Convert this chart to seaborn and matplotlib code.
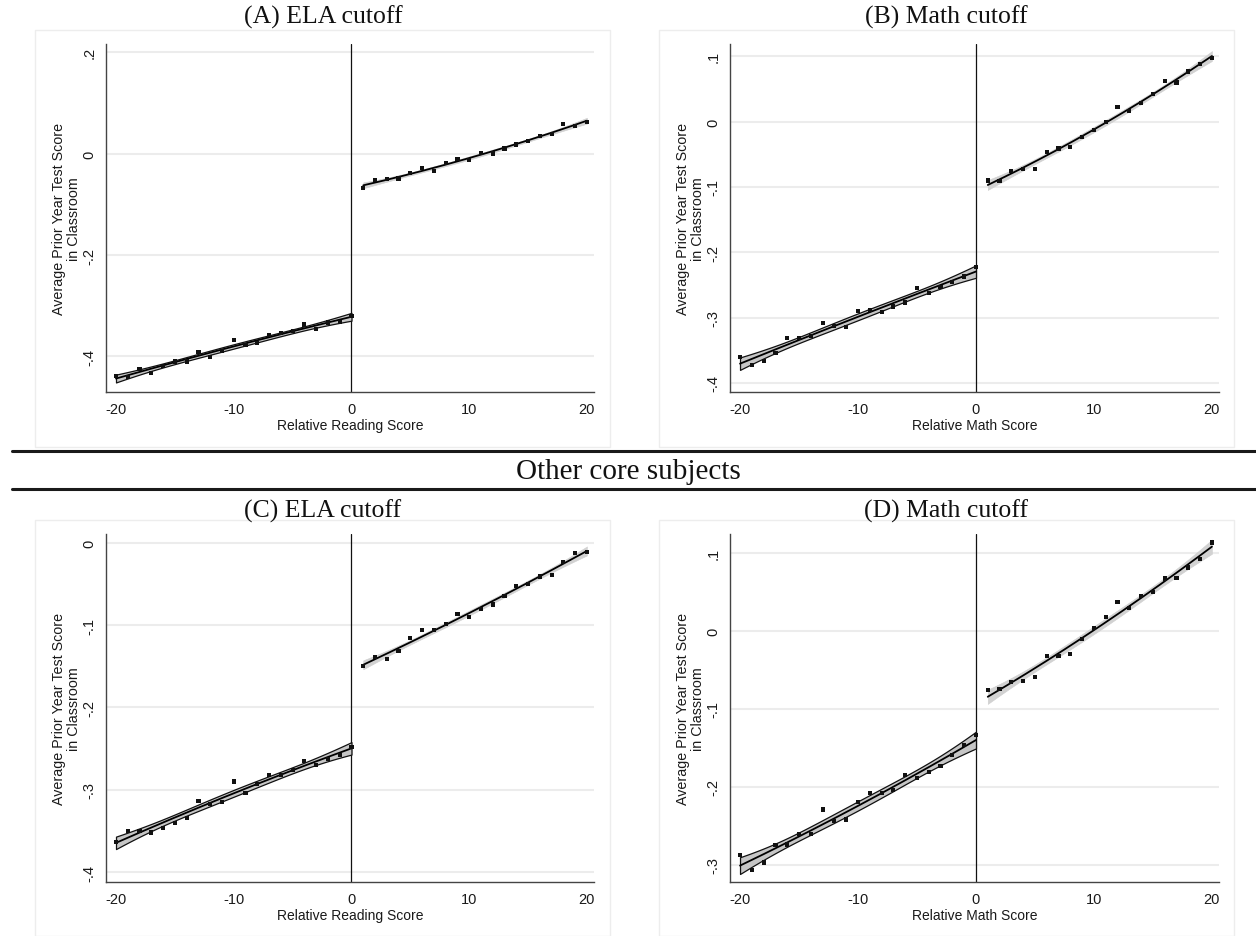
import numpy as np
import pandas as pd
import matplotlib
matplotlib.use("Agg")
import matplotlib.pyplot as plt
from matplotlib.lines import Line2D
from matplotlib.patches import Rectangle
from matplotlib.ticker import FixedLocator, FuncFormatter
import seaborn as sns

# Score bins relative to the cutoff
x_left = list(range(-20, 1))
x_right = list(range(1, 21))

# Binned means of average prior-year test score in classroom
a_left = [-0.438, -0.441, -0.424, -0.433, -0.418, -0.410, -0.410, -0.391, -0.401, -0.389,
          -0.368, -0.378, -0.374, -0.358, -0.353, -0.349, -0.337, -0.345, -0.333, -0.332, -0.320]
a_right = [-0.068, -0.052, -0.050, -0.049, -0.039, -0.029, -0.035, -0.018, -0.011, -0.013,
           0.001, 0.000, 0.010, 0.018, 0.024, 0.035, 0.039, 0.059, 0.055, 0.062]

b_left = [-0.361, -0.373, -0.367, -0.354, -0.331, -0.331, -0.328, -0.308, -0.313, -0.314,
          -0.290, -0.288, -0.291, -0.283, -0.277, -0.255, -0.262, -0.253, -0.246, -0.237, -0.222]
b_right = [-0.090, -0.091, -0.076, -0.073, -0.073, -0.046, -0.041, -0.039, -0.024, -0.013,
           0.000, 0.022, 0.017, 0.028, 0.042, 0.062, 0.060, 0.077, 0.089, 0.097]

c_left = [-0.363, -0.350, -0.350, -0.352, -0.346, -0.340, -0.334, -0.314, -0.317, -0.315,
          -0.290, -0.304, -0.293, -0.282, -0.282, -0.276, -0.265, -0.270, -0.263, -0.258, -0.248]
c_right = [-0.150, -0.139, -0.141, -0.132, -0.116, -0.106, -0.106, -0.099, -0.087, -0.090,
           -0.081, -0.075, -0.065, -0.053, -0.050, -0.041, -0.039, -0.023, -0.013, -0.011]

d_left = [-0.287, -0.307, -0.297, -0.275, -0.274, -0.261, -0.260, -0.229, -0.244, -0.242,
          -0.220, -0.208, -0.208, -0.204, -0.185, -0.189, -0.181, -0.173, -0.159, -0.146, -0.134]
d_right = [-0.076, -0.075, -0.066, -0.064, -0.059, -0.032, -0.032, -0.030, -0.011, 0.004,
           0.018, 0.037, 0.029, 0.045, 0.050, 0.067, 0.068, 0.081, 0.092, 0.113]

titles = ["(A) ELA cutoff", "(B) Math cutoff", "(C) ELA cutoff", "(D) Math cutoff"]
xlabels = ["Relative Reading Score", "Relative Math Score",
           "Relative Reading Score", "Relative Math Score"]
ylabel = "Average Prior Year Test Score\nin Classroom"
section_title = "Other core subjects"
x_ticks = [-20, -10, 0, 10, 20]
y_ticks = [[0.2, 0.0, -0.2, -0.4], [0.1, 0.0, -0.1, -0.2, -0.3, -0.4],
           [0.0, -0.1, -0.2, -0.3, -0.4], [0.1, 0.0, -0.1, -0.2, -0.3]]
y_limits = [(-0.470, 0.216), (-0.414, 0.119), (-0.412, 0.0105), (-0.322, 0.124)]

sns.set_style("white")
plt.rcParams["font.family"] = ["Liberation Sans", "DejaVu Sans"]
plt.rcParams["axes.unicode_minus"] = False

W, H = 1256, 937
fig = plt.figure(figsize=(W / 100, H / 100), dpi=100)

SERIF = ["Liberation Serif", "DejaVu Serif"]


def fx(px):
    return px / W


def fy(py):
    return 1 - py / H


def stata_fmt(v, _pos):
    if abs(v) < 1e-9:
        return "0"
    return f"{v:.1f}".replace("0.", ".")


def quad_fit_ci(x, y, grid, t_crit=2.101):
    """Quadratic OLS fit with a 95% confidence band for the mean."""
    x = np.asarray(x, float)
    y = np.asarray(y, float)
    X = np.column_stack([np.ones_like(x), x, x ** 2])
    beta, *_ = np.linalg.lstsq(X, y, rcond=None)
    resid = y - X @ beta
    s2 = resid @ resid / (len(x) - 3)
    cov = s2 * np.linalg.inv(X.T @ X)
    G = np.column_stack([np.ones_like(grid), grid, grid ** 2])
    fit = G @ beta
    se = np.sqrt(np.einsum("ij,jk,ik->i", G, cov, G))
    return fit, fit - t_crit * se, fit + t_crit * se


# Panel frames (px): left, top, right, bottom
frames = [(35, 31, 610, 448), (659, 31, 1234, 448), (35, 521, 610, 937), (659, 521, 1234, 937)]
# Axes (px): left, top, right, bottom
axes_px = [(106, 45, 594, 393), (730, 45, 1219, 393), (106, 535, 594, 883), (730, 535, 1219, 883)]
title_pos = [(323, 17), (946, 17), (323, 511), (946, 511)]

series = [(a_left, a_right), (b_left, b_right), (c_left, c_right), (d_left, d_right)]

for i in range(4):
    l, t, r, b = frames[i]
    fig.add_artist(Rectangle((fx(l), fy(b)), fx(r - l), (b - t) / H, transform=fig.transFigure,
                             facecolor="white", edgecolor="#ededed", lw=1.0, zorder=0))
    l, t, r, b = axes_px[i]
    ax = fig.add_axes([fx(l), fy(b), fx(r - l), (b - t) / H])
    ax.set_facecolor("none")

    left_vals, right_vals = series[i]
    sides = [(x_left, left_vals, "#c6c6c6", "#111111", 0.9),
             (x_right, right_vals, "#d2d2d2", "#cfcfcf", 0.4)]

    for xs, ys, face, edge, elw in sides:
        grid = np.linspace(min(xs), max(xs), 200)
        fit, lo, hi = quad_fit_ci(xs, ys, grid)
        ax.fill_between(grid, lo, hi, facecolor=face, edgecolor=edge, linewidth=elw, zorder=3)
        fit_df = pd.DataFrame({"x": grid, "y": fit})
        sns.lineplot(data=fit_df, x="x", y="y", ax=ax, color="black", lw=1.3, zorder=4)
        pts = pd.DataFrame({"x": xs, "y": ys})
        sns.scatterplot(data=pts, x="x", y="y", ax=ax, marker="s", s=9, color="#111111",
                        edgecolor="none", linewidth=0, zorder=5)

    ax.axvline(0, color="#111111", lw=0.9, zorder=2)

    ax.set_xlim(-20.85, 20.6)
    ax.set_ylim(*y_limits[i])
    ax.xaxis.set_major_locator(FixedLocator(x_ticks))
    ax.yaxis.set_major_locator(FixedLocator(y_ticks[i]))
    ax.yaxis.set_major_formatter(FuncFormatter(stata_fmt))
    ax.grid(axis="y", color="#ececec", lw=1.5, zorder=0)
    ax.grid(axis="x", visible=False)
    ax.set_axisbelow(True)

    for side in ["top", "right"]:
        ax.spines[side].set_visible(False)
    for side in ["left", "bottom"]:
        ax.spines[side].set_color("#444444")
        ax.spines[side].set_linewidth(1.0)

    ax.tick_params(axis="both", which="major", direction="out", length=4, width=0.9,
                   color="#444444", labelsize=10.5, labelcolor="#1a1a1a")
    ax.tick_params(axis="x", pad=3)
    ax.tick_params(axis="y", pad=3, labelrotation=90)
    for lab in ax.get_yticklabels():
        lab.set_va("center")

    ax.set_xlabel(xlabels[i], fontsize=10, color="#1a1a1a", labelpad=1.5)
    ax.set_ylabel(ylabel, fontsize=10.3, color="#1a1a1a", linespacing=1.05)
    ax.yaxis.set_label_coords(-0.052, 0.5)

    tx, ty = title_pos[i]
    fig.text(fx(tx), fy(ty), titles[i], ha="center", va="center", fontsize=18.5,
             family=SERIF, color="#111111")

# Section separator lines and heading
for py in (452, 490):
    fig.add_artist(Line2D([fx(12), 1.0], [fy(py), fy(py)], transform=fig.transFigure,
                          color="#1a1a1a", lw=2.2))
fig.text(0.5, fy(472), section_title, ha="center", va="center", fontsize=21,
         family=SERIF, color="#111111")

fig.savefig("out.png", dpi=100)
